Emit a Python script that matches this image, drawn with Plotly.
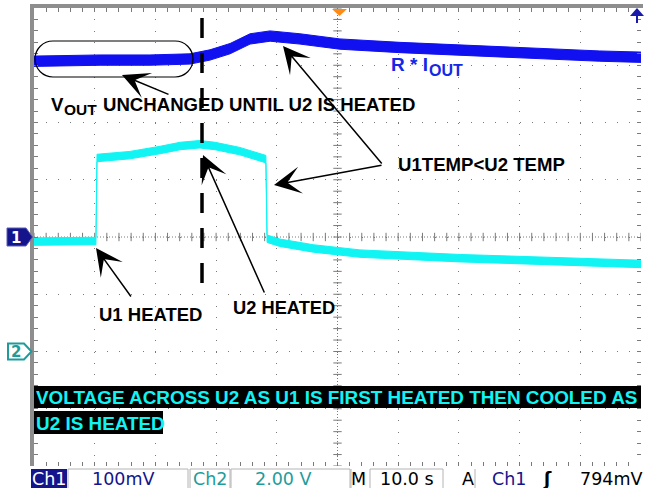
import numpy as np
import plotly.graph_objects as go

# ---------------- data read from the screen ----------------
# time axis: 10 s/div, 10 divisions -> 0..100 s ; vertical: screen divisions (0 = Ch1 reference)
blue_time = [0, 10.9, 19.1, 25.7, 29.0, 32.3, 35.6, 38.9, 43.8, 50.4, 60.3, 73.5, 80.1, 93.2, 100]
blue_div = [3.07, 3.09, 3.09, 3.11, 3.18, 3.29, 3.46, 3.51, 3.46, 3.37, 3.31, 3.25, 3.21, 3.16, 3.14]

cyan_time = [0, 10.2, 10.38, 15.8, 20.8, 24.1, 27.3, 29.8, 33.9, 38.2, 38.4, 40.5, 46.0, 53.7, 70.2, 85.0, 100]
cyan_div = [-0.08, -0.07, 1.38, 1.43, 1.52, 1.59, 1.62, 1.59, 1.50, 1.36, -0.03, -0.10, -0.20, -0.29, -0.37, -0.42, -0.47]

status_labels = ["Ch1", "100mV", "Ch2", "2.00 V", "M", "10.0 s", "A", "Ch1", "ʃ", "794mV"]

# ---------------- geometry helpers (layout only) ----------------
W, H = 645, 488
PL, PR, PT, PB = 34, 641, 8, 466


def dx(px):
    return (px - PL) / (PR - PL) * 100.0


def dy(py):
    return 4.0 - (py - PT) / (PB - PT) * 8.0


def ppx(px):
    return (px - PL) / (PR - PL)


def ppy(py):
    return (PB - py) / (PB - PT)


BLUE = "#1010f0"
CYAN = "#10f4f4"
NAVY = "#14148c"
TEAL = "#1e9c9c"
GRID = "#7a7a7a"
FONT = "Liberation Sans, Arial, sans-serif"
SFONT = "DejaVu Sans, Verdana, sans-serif"

fig = go.Figure()

# centre-line graticule ticks
tx = np.arange(0, 100.01, 2)
fig.add_trace(go.Scatter(x=tx, y=np.zeros_like(tx), mode="markers", hoverinfo="skip",
                         marker=dict(symbol="line-ns", size=6, line=dict(width=1, color=GRID))))
ty = np.arange(-4, 4.01, 0.2)
fig.add_trace(go.Scatter(x=np.full_like(ty, 50), y=ty, mode="markers", hoverinfo="skip",
                         marker=dict(symbol="line-ew", size=6, line=dict(width=1, color=GRID))))

# traces drawn as noise bands
for t, v, col, hw in [(blue_time, blue_div, BLUE, 0.09), (cyan_time, cyan_div, CYAN, 0.065)]:
    t = np.array(t)
    v = np.array(v)
    fig.add_trace(go.Scatter(x=t, y=v - hw, mode="lines", line=dict(color=col, width=1), hoverinfo="skip"))
    fig.add_trace(go.Scatter(x=t, y=v + hw, mode="lines", fill="tonexty", fillcolor=col,
                             line=dict(color=col, width=1), hoverinfo="skip"))

shapes = []
# centre cross dotted lines
shapes.append(dict(type="line", xref="x", yref="y", x0=0, x1=100, y0=0, y1=0,
                   line=dict(color=GRID, width=1, dash="1px,2px"), layer="below"))
shapes.append(dict(type="line", xref="x", yref="y", x0=50, x1=50, y0=-4, y1=4,
                   line=dict(color=GRID, width=1, dash="1px,2px"), layer="below"))
# grey frame (left and top)
shapes.append(dict(type="rect", xref="paper", yref="paper", x0=ppx(30), x1=ppx(34), y0=ppy(466), y1=ppy(4),
                   fillcolor="#8e8e8e", line=dict(width=0)))
shapes.append(dict(type="rect", xref="paper", yref="paper", x0=ppx(30), x1=ppx(643), y0=ppy(8), y1=ppy(4),
                   fillcolor="#8e8e8e", line=dict(width=0)))

# dashed marker line
shapes.append(dict(type="line", xref="x", yref="y", x0=dx(202), x1=dx(202), y0=dy(18), y1=dy(284),
                   line=dict(color="black", width=3.5, dash="20px,15px"), layer="above"))

# stadium outline
l, r, t, b = 35, 193, 41, 77
rad = (b - t) / 2
k = 0.5523 * rad
cy = (t + b) / 2
pts = [("M", [(l + rad, t)]), ("L", [(r - rad, t)]),
       ("C", [(r - rad + k, t), (r, cy - k), (r, cy)]),
       ("C", [(r, cy + k), (r - rad + k, b), (r - rad, b)]),
       ("L", [(l + rad, b)]),
       ("C", [(l + rad - k, b), (l, cy + k), (l, cy)]),
       ("C", [(l, cy - k), (l + rad - k, t), (l + rad, t)])]
path = ""
for cmd, ps in pts:
    path += cmd + " ".join(f"{dx(a):.4f},{dy(c):.4f}" for a, c in ps) + " "
path += "Z"
shapes.append(dict(type="path", xref="x", yref="y", path=path, line=dict(color="black", width=1.2), layer="above"))


def ppath(points):
    return "M" + "L".join(f"{ppx(a):.5f},{ppy(c):.5f}" for a, c in points) + "Z"


# channel markers
shapes.append(dict(type="path", xref="paper", yref="paper",
                   path=ppath([(7, 228), (26, 228), (32.5, 237), (26, 246), (7, 246)]),
                   fillcolor=NAVY, line=dict(color="#5a5ab8", width=1)))
shapes.append(dict(type="path", xref="paper", yref="paper",
                   path=ppath([(8, 343.5), (24, 343.5), (31.5, 351.5), (24, 359.5), (8, 359.5)]),
                   fillcolor="white", line=dict(color=TEAL, width=2)))
# trigger position marker
shapes.append(dict(type="path", xref="paper", yref="paper",
                   path=ppath([(332, 9), (347, 9), (339.5, 16)]), fillcolor="#ff8a14", line=dict(width=0)))
# trigger level marker (off-screen above)
shapes.append(dict(type="path", xref="paper", yref="paper",
                   path=ppath([(630, 16), (644, 16), (637, 8)]), fillcolor="#1a1aa8", line=dict(width=0)))
shapes.append(dict(type="line", xref="paper", yref="paper", x0=ppx(637), x1=ppx(637), y0=ppy(15), y1=ppy(23),
                   line=dict(color="#1a1aa8", width=2)))

# caption black boxes
shapes.append(dict(type="rect", xref="paper", yref="paper", x0=ppx(34), x1=ppx(641), y0=ppy(408), y1=ppy(386),
                   fillcolor="black", line=dict(width=0), layer="above"))
shapes.append(dict(type="rect", xref="paper", yref="paper", x0=ppx(34), x1=ppx(163), y0=ppy(434), y1=ppy(411),
                   fillcolor="black", line=dict(width=0), layer="above"))

# status bar
shapes.append(dict(type="rect", xref="paper", yref="paper", x0=ppx(31), x1=ppx(67), y0=ppy(488), y1=ppy(469),
                   fillcolor=NAVY, line=dict(width=0)))
for a, c in [(68, 188), (190, 230), (231, 350), (370, 443)]:
    shapes.append(dict(type="rect", xref="paper", yref="paper", x0=ppx(a), x1=ppx(c), y0=ppy(489), y1=ppy(469),
                       fillcolor="rgba(0,0,0,0)", line=dict(color="#b4b4b4", width=1)))
for a in [351, 475]:
    shapes.append(dict(type="line", xref="paper", yref="paper", x0=ppx(a), x1=ppx(a), y0=ppy(488), y1=ppy(469),
                       line=dict(color="#b4b4b4", width=1)))

ann = []


def text(s, px, py, size=18, color="black", anchor="left", family=FONT, weight="bold", bg=None):
    d = dict(text=s, xref="paper", yref="paper", x=ppx(px), y=ppy(py), xanchor=anchor, yanchor="middle",
             showarrow=False, font=dict(family=family, size=size, color=color, weight=weight))
    if bg:
        d["bgcolor"] = bg
    ann.append(d)


def arrow(hx, hy, tx_, ty_):
    ann.append(dict(text="", xref="paper", yref="paper", x=ppx(hx), y=ppy(hy),
                    axref="pixel", ayref="pixel", ax=tx_ - hx, ay=ty_ - hy,
                    showarrow=True, arrowhead=3, arrowsize=3.0, arrowwidth=1.5, arrowcolor="black"))


text("V", 49, 104, size=18.6)
text("OUT", 62, 110, size=15.5)
text("UNCHANGED UNTIL U2 IS HEATED", 101, 104, size=18.6)
text("R * I", 389, 64.5, size=19, color="#1428e6")
text("OUT", 427, 70, size=16, color="#1428e6")
text("U1TEMP&lt;U2 TEMP", 396, 165, size=18.6)
text("U1 HEATED", 97, 314, size=18.5)
text("U2 HEATED", 231, 307.5, size=18.3)
text("VOLTAGE ACROSS U2 AS U1 IS FIRST HEATED THEN COOLED AS", 34, 397.5, size=18.9, color=CYAN)
text("U2 IS HEATED", 34, 423, size=18.9, color=CYAN)

arrow(122, 75, 170, 95)
arrow(283, 46, 383, 165)
arrow(274, 185, 383, 165)
arrow(96, 248, 132, 298)
arrow(203, 155, 265, 294)

# channel marker digits
text("1", 16, 237.5, size=15, color="white", anchor="center", family=SFONT)
text("2", 16, 351.5, size=15, color=TEAL, anchor="center", family=SFONT)

# status bar labels
pos = [49, 122.5, 210, 283, 358, 407, 468, 509, 547, 611]
cols = ["white", NAVY, TEAL, TEAL, "black", "black", "black", NAVY, "black", "black"]
weights = ["normal"] * 8 + ["bold", "normal"]
for s, p, c, wgt in zip(status_labels, pos, cols, weights):
    text(s, p, 479, size=17.5, color=c, anchor="center", family=SFONT, weight=wgt)

fig.update_layout(
    width=W, height=H, margin=dict(l=PL, r=W - PR, t=PT, b=H - PB, pad=0),
    paper_bgcolor="white", plot_bgcolor="white", showlegend=False,
    shapes=shapes, annotations=ann,
    xaxis=dict(range=[0, 100], dtick=10, tick0=0, showgrid=True, gridcolor=GRID, gridwidth=1,
               griddash="1px,10.45px", zeroline=False, showticklabels=False,
               ticks="inside", ticklen=4, tickcolor=GRID, mirror="allticks", showline=False,
               minor=dict(dtick=2, ticks="inside", ticklen=4, tickcolor=GRID, showgrid=False)),
    yaxis=dict(range=[-4, 4], dtick=1, tick0=0, showgrid=True, gridcolor=GRID, gridwidth=1,
               griddash="1px,11.14px", zeroline=False, showticklabels=False,
               ticks="inside", ticklen=4, tickcolor=GRID, mirror="allticks", showline=False,
               minor=dict(dtick=0.2, ticks="inside", ticklen=4, tickcolor=GRID, showgrid=False)),
)

fig.write_html("out.html", config={"displayModeBar": False},
               post_script="document.body.style.margin='0';document.body.style.padding='0';"
                           "document.body.style.overflow='hidden';")
